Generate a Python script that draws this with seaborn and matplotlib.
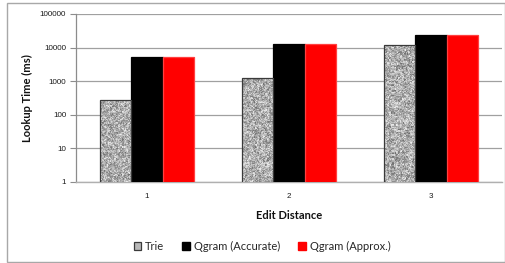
import numpy as np
import pandas as pd
import seaborn as sns
import matplotlib
matplotlib.use("Agg")
import matplotlib.pyplot as plt
from matplotlib.patches import Rectangle, Patch
from matplotlib.ticker import FixedLocator, FixedFormatter, NullLocator

# ---- data ----
edit_distance = ["1", "2", "3"]
trie = [270, 1230, 12000]
qgram_accurate = [5300, 12500, 23500]
qgram_approx = [5300, 12500, 23500]
series_names = ["Trie", "Qgram (Accurate)", "Qgram (Approx.)"]
y_ticks = [1, 10, 100, 1000, 10000, 100000]
y_tick_labels = ["1", "10", "100", "1000", "10000", "100000"]

rows = []
for name, vals in zip(series_names, [trie, qgram_accurate, qgram_approx]):
    for d, v in zip(edit_distance, vals):
        rows.append({"Edit Distance": d, "Series": name, "Time": v})
df = pd.DataFrame(rows)

sns.set_theme(style="white")
plt.rcParams["font.family"] = ["Lato", "DejaVu Sans"]

W, H = 506, 263
fig = plt.figure(figsize=(W / 100, H / 100), dpi=100)
ax = fig.add_axes([76 / W, 1 - 182 / H, (502 - 76) / W, (182 - 14) / H])
ax.set_yscale("log")

palette = {"Trie": "#b4b4b4", "Qgram (Accurate)": "#000000", "Qgram (Approx.)": "#ff0000"}
sns.barplot(data=df, x="Edit Distance", y="Time", hue="Series", order=edit_distance,
            hue_order=series_names, palette=palette, width=0.667, ax=ax,
            saturation=1, legend=False, linewidth=0.8, edgecolor="none", zorder=3)

# edges & texture
n = len(edit_distance)
patches = list(ax.patches)
edgecols = ["#3a3a3a", "#000000", "#ff4040"]
# deterministic pseudo-noise texture (style only)
gx, gy = np.meshgrid(np.arange(430), np.arange(170))
noise = np.sin(gx * 12.9898 + gy * 78.233) * 43758.5453
noise = noise - np.floor(noise)
noise2 = np.sin((gx // 2) * 39.346 + (gy // 2) * 11.135) * 24634.6345
noise2 = noise2 - np.floor(noise2)
tex = 0.55 * noise + 0.45 * noise2
tex = 0.42 + 0.52 * tex
for i, p in enumerate(patches):
    s = i // n
    p.set_edgecolor(edgecols[s])
    p.set_linewidth(0.9)
    if s == 0:
        im = ax.imshow(tex, cmap="gray", vmin=0, vmax=1, extent=[0, 1, 0, 1],
                       transform=ax.transAxes, interpolation="nearest",
                       aspect="auto", zorder=3.5)
        im.set_clip_path(p)
        p.set_zorder(4)
        p.set_facecolor("none")
ax.set_xlim(-0.5, 2.5)
ax.set_ylim(1, 100000)

ax.yaxis.set_major_locator(FixedLocator(y_ticks))
ax.yaxis.set_major_formatter(FixedFormatter(y_tick_labels))
ax.yaxis.set_minor_locator(NullLocator())
ax.grid(axis="y", color="#a0a0a0", linewidth=0.9, zorder=0)
ax.grid(axis="x", visible=False)
ax.set_axisbelow(True)

for side in ["top", "right"]:
    ax.spines[side].set_visible(False)
ax.spines["left"].set_color("#8c8c8c")
ax.spines["bottom"].set_color("#b0b0b0")
ax.spines["left"].set_linewidth(0.9)
ax.spines["bottom"].set_linewidth(1.0)

ax.tick_params(axis="y", which="major", left=True, length=4, width=0.8, color="#8c8c8c",
               labelsize=5.8, pad=3, labelcolor="#1a1a1a")
ax.tick_params(axis="x", bottom=False, length=0, labelsize=5.8, pad=8, labelcolor="#1a1a1a")
for t in ax.get_yticklabels() + ax.get_xticklabels():
    t.set_family(["Liberation Sans", "DejaVu Sans"])

ax.set_xlabel("Edit Distance", fontsize=8, fontweight="bold", labelpad=7, color="#111111")
ax.set_ylabel("Lookup Time (ms)", fontsize=8, fontweight="bold", labelpad=5, color="#111111")

# legend
handles = [
    Patch(facecolor="#b8b8b8", edgecolor="#3a3a3a", linewidth=0.9),
    Patch(facecolor="#000000", edgecolor="#000000"),
    Patch(facecolor="#ff0000", edgecolor="#ff0000"),
]
leg = fig.legend(handles, series_names, loc="center", bbox_to_anchor=(262 / W, 1 - 246 / H),
                 ncol=3, frameon=False, fontsize=8, handlelength=0.7, handleheight=0.7,
                 handletextpad=0.35, columnspacing=1.6, borderaxespad=0)

# outer border
fig.patches.append(Rectangle((7 / W, 1 - 262 / H), (505.5 - 7) / W, (262 - 3) / H,
                             transform=fig.transFigure, fill=False, edgecolor="#a8a8a8",
                             linewidth=1.0))

fig.savefig("out.png", dpi=100)
